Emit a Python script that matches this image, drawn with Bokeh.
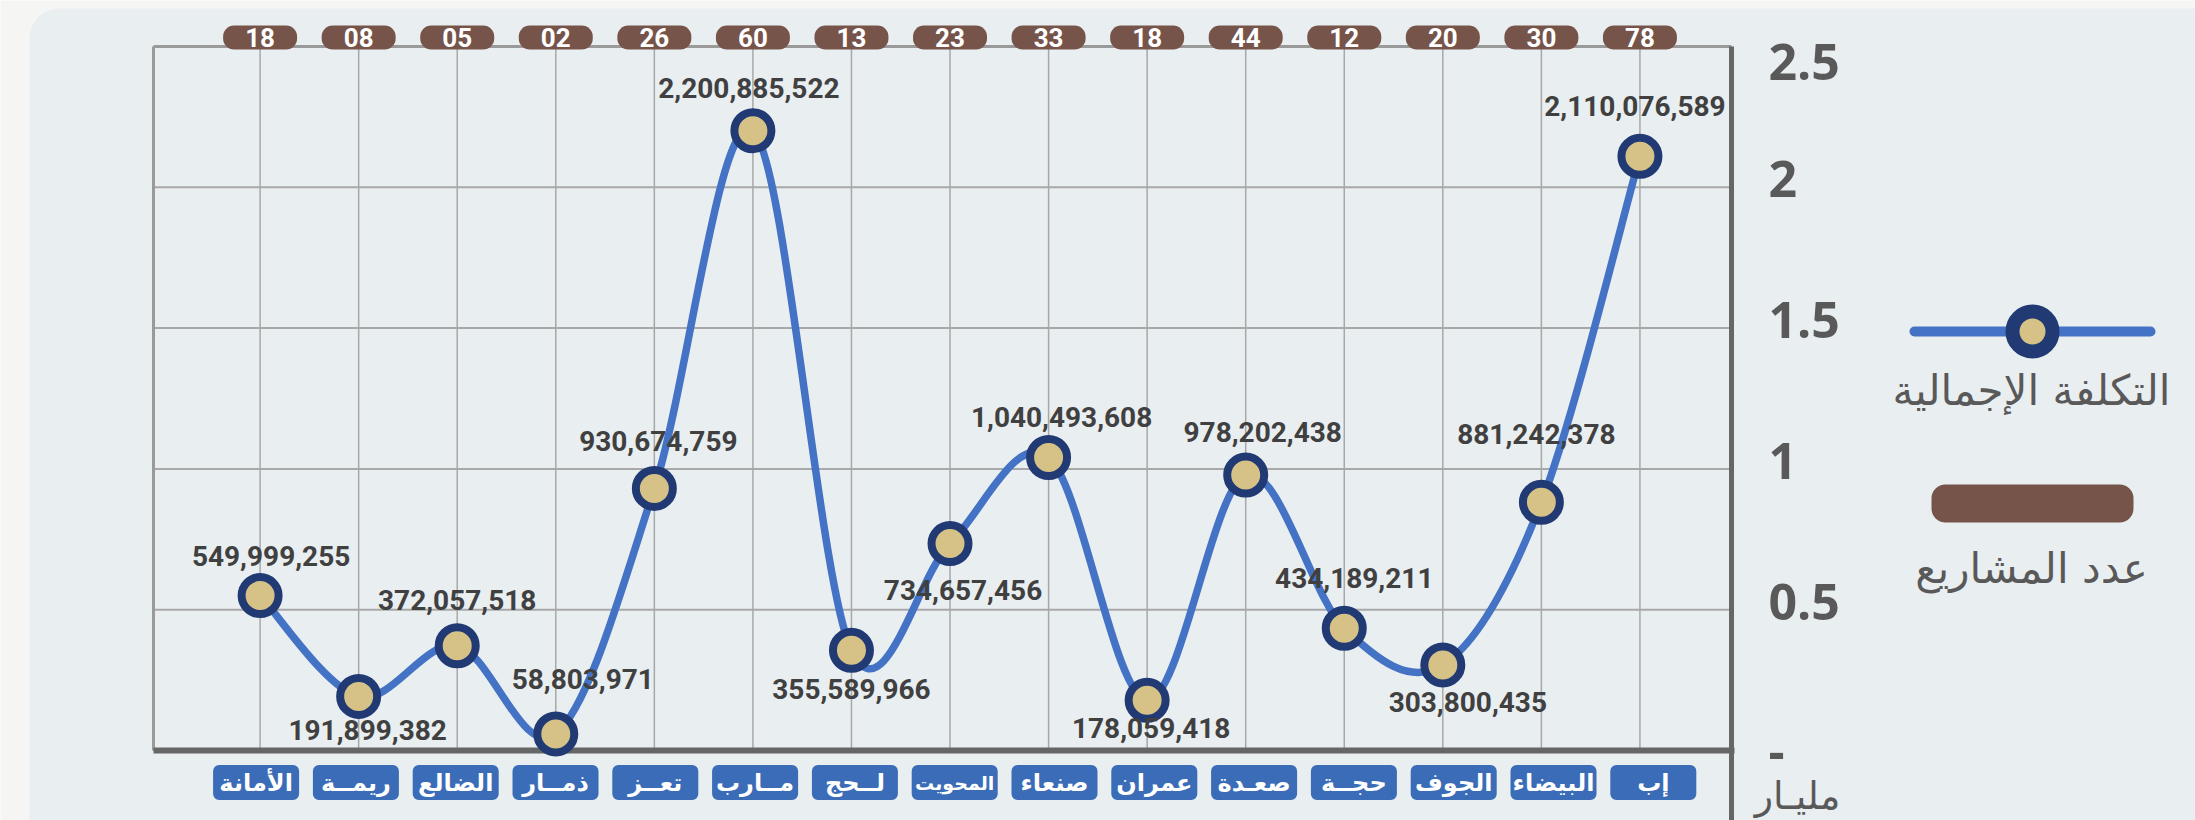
import numpy as np
from bokeh.plotting import figure
from bokeh.models import Range1d, ColumnDataSource
from bokeh.core.properties import value
from bokeh.embed import file_html
from bokeh.resources import INLINE

# ---------------- data ----------------
categories = ["الأمانة", "ريمــة", "الضالع", "ذمــار", "تعــز", "مــارب", "لــحج", "المحويت",
              "صنعاء", "عمران", "صعـدة", "حجــة", "الجوف", "البيضاء", "إب"]
total_cost = [549999255, 191899382, 372057518, 58803971, 930674759, 2200885522, 355589966,
              734657456, 1040493608, 178059418, 978202438, 434189211, 303800435, 881242378,
              2110076589]
project_count = [18, 8, 5, 2, 26, 60, 13, 23, 33, 18, 44, 12, 20, 30, 78]
y_ticks = [0, 0.5, 1, 1.5, 2, 2.5]
y_tick_labels = ["-", "0.5", "1", "1.5", "2", "2.5"]
y_unit = "مليـار"
legend_cost = "التكلفة الإجمالية"
legend_count = "عدد المشاريع"

# ---------------- layout helpers (page pixels -> data) ----------------
PX = 98.56    # pixels per category unit
PY = 281.6    # pixels per billion
def DX(px):
    return (px - 161.04) / PX
def DY(py):
    return (750.0 - py) / PY

W, H = 2195, 820
OFF = 0
p = figure(width=W, height=H, output_backend="svg", toolbar_location=None,
           x_range=Range1d(DX(OFF), DX(OFF + W)), y_range=Range1d(DY(OFF + H), DY(OFF)),
           x_axis_location=None, y_axis_location=None, min_border=0)
p.xgrid.visible = False
p.ygrid.visible = False
p.outline_line_color = None
p.background_fill_color = "#f5f5f3"
p.border_fill_color = "#f5f5f3"

n = len(categories)
xs = np.arange(1, n + 1, dtype=float)
ys = np.array(total_cost, dtype=float) / 1e9

# background panel
p.quad(left=[DX(29)], right=[DX(2260)], top=[DY(8)], bottom=[DY(900)],
       fill_color="#e9eef1", line_color=None, border_radius=30)

x_left, x_right = DX(153), DX(1731)
y_top = y_ticks[-1]

# grid lines
p.segment(x0=[x_left] * 4, x1=[x_right] * 4, y0=y_ticks[1:-1], y1=y_ticks[1:-1],
          line_color="#a8a8a8", line_width=2)
p.segment(x0=xs, x1=xs, y0=[0] * n, y1=[y_top] * n, line_color="#a8a8a8", line_width=1.5)
# plot borders
p.segment(x0=[x_left], x1=[x_right], y0=[y_top], y1=[y_top], line_color="#9a9a9a", line_width=3)
p.segment(x0=[x_left], x1=[x_left], y0=[0], y1=[y_top], line_color="#9a9a9a", line_width=3)
# axis lines
p.segment(x0=[x_left], x1=[DX(1734)], y0=[0], y1=[0], line_color="#666666", line_width=6)
p.segment(x0=[x_right], x1=[x_right], y0=[DY(830)], y1=[y_top], line_color="#666666", line_width=5)

# smooth curve (Catmull-Rom -> cubic Bezier)
P = np.column_stack([xs, ys])
x0s, y0s, x1s, y1s, cx0, cy0, cx1, cy1 = ([] for _ in range(8))
for i in range(n - 1):
    a = P[i - 1] if i > 0 else P[i]
    b, c = P[i], P[i + 1]
    d = P[i + 2] if i + 2 < n else P[i + 1]
    k0 = b + (c - a) / 6.0
    k1 = c - (d - b) / 6.0
    x0s.append(b[0]); y0s.append(b[1]); x1s.append(c[0]); y1s.append(c[1])
    cx0.append(k0[0]); cy0.append(k0[1]); cx1.append(k1[0]); cy1.append(k1[1])
p.bezier(x0=x0s, y0=y0s, x1=x1s, y1=y1s, cx0=cx0, cy0=cy0, cx1=cx1, cy1=cy1,
         line_color="#4472c4", line_width=7.5, line_cap="round")

# markers
p.scatter(xs, ys, size=37, fill_color="#d6c287", line_color="#213a73", line_width=8)

# data labels (offsets in page px: right, down)
lab_dx = [11, 9, 0, 27, 4, -4, 0, 13, 13, 4, 17, 10, 25, -5, -5]
lab_dy = [-40, 34, -46, -55, -47, -43, 39, 46, -40, 28, -43, -50, 37, -68, -50]
lab_src = ColumnDataSource(dict(
    x=xs + np.array(lab_dx) / PX,
    y=ys - np.array(lab_dy) / PY,
    t=[f"{v:,}" for v in total_cost]))
p.text(x="x", y="y", text="t", source=lab_src, text_font=value("Roboto"),
       text_font_style="bold", text_font_size="28px", text_color="#404040",
       text_align="center", text_baseline="middle")

# project count pills (top)
pill_y = DY(37)
p.quad(left=xs - 37 / PX, right=xs + 37 / PX, top=[pill_y + 12 / PY] * n,
       bottom=[pill_y - 12 / PY] * n, fill_color="#76544a", line_color=None, border_radius=11)
p.text(x=xs, y=[pill_y] * n, text=[f"{c:02d}" for c in project_count],
       text_font=value("Roboto"), text_font_style="bold", text_font_size="26px",
       text_color="white", text_align="center", text_baseline="middle")

# category boxes (bottom)
box_cx = np.array([DX(255.6 + i * 99.8) for i in range(n)])
box_y = DY(782)
box_font = ["24px"] * n
box_font[7] = "19px"
p.quad(left=box_cx - 43 / PX, right=box_cx + 43 / PX, top=[box_y + 17.5 / PY] * n,
       bottom=[box_y - 17.5 / PY] * n, fill_color="#3b6cb7", line_color=None, border_radius=6)
p.text(x=box_cx, y=[box_y] * n, text=categories, text_font=value("DejaVu Sans"),
       text_font_style="bold", text_font_size=box_font, text_color="white",
       text_align="center", text_baseline="middle")

# y tick labels (right)
tick_dy = [0, -8, -8, -8, -8, 15]
p.text(x=[DX(1768)] * len(y_ticks), y=np.array(y_ticks) - np.array(tick_dy) / PY,
       text=y_tick_labels, text_font=value("Open Sans"), text_font_style="bold",
       text_font_size="50px", text_color="#595959", text_align="left", text_baseline="middle")
p.text(x=[DX(1797)], y=[DY(795)], text=[y_unit], text_font=value("DejaVu Sans"),
       text_font_size="38px", text_color="#595959", text_align="center", text_baseline="middle")

# legend
p.segment(x0=[DX(1914)], x1=[DX(2150)], y0=[DY(331)], y1=[DY(331)],
          line_color="#4472c4", line_width=10, line_cap="round")
p.scatter([DX(2032)], [DY(331)], size=40, fill_color="#d6c287", line_color="#213a73", line_width=14)
p.text(x=[DX(2031)], y=[DY(390)], text=[legend_cost], text_font=value("DejaVu Sans"),
       text_font_size="42px", text_color="#595959", text_align="center", text_baseline="middle")
p.quad(left=[DX(1931)], right=[DX(2133)], top=[DY(484)], bottom=[DY(522)],
       fill_color="#76544a", line_color=None, border_radius=14)
p.text(x=[DX(2031)], y=[DY(568)], text=[legend_count], text_font=value("DejaVu Sans"),
       text_font_size="42px", text_color="#595959", text_align="center", text_baseline="middle")

open("out.html", "w").write(file_html(p, INLINE))
